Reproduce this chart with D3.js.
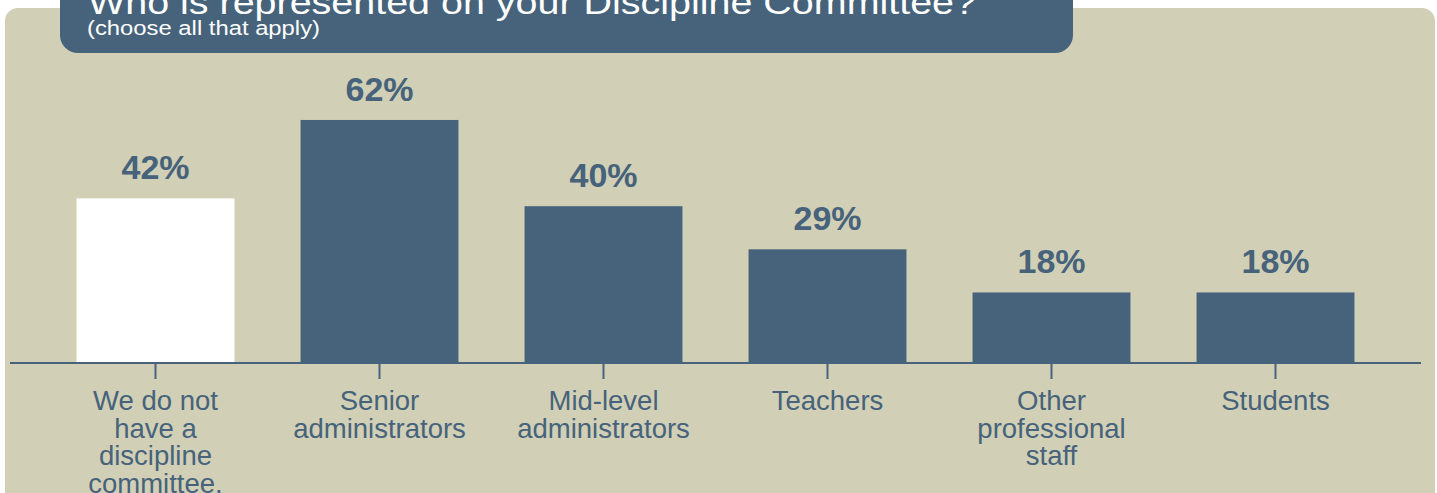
<!DOCTYPE html>
<html>
<head>
<meta charset="utf-8">
<script src="https://cdn.jsdelivr.net/npm/d3@7"></script>
<style>
  html, body { margin: 0; padding: 0; background: #ffffff; overflow: hidden; }
  svg { display: block; }
  text { font-family: "Liberation Sans", Arial, sans-serif; }
</style>
</head>
<body>
<svg id="chart" width="1437" height="493"></svg>
<script>
// ---- data ----
const categories = [
  "We do not have a discipline committee.",
  "Senior administrators",
  "Mid-level administrators",
  "Teachers",
  "Other professional staff",
  "Students"
];
const values = [42, 62, 40, 29, 18, 18];
const tickLabels = [
  ["We do not", "have a", "discipline", "committee."],
  ["Senior", "administrators"],
  ["Mid-level", "administrators"],
  ["Teachers"],
  ["Other", "professional", "staff"],
  ["Students"]
];
const highlight = ["We do not have a discipline committee."];
const titleText = "Who is represented on your Discipline Committee?";
const subtitleText = "(choose all that apply)";

// ---- style ----
const BLUE = "#46637b";
const BG = "#d1cfb5";

const svg = d3.select("#chart");

// panel
svg.append("rect")
  .attr("x", 5).attr("y", 8)
  .attr("width", 1430).attr("height", 500)
  .attr("rx", 13).attr("ry", 13)
  .attr("fill", BG);

// title box
svg.append("rect")
  .attr("x", 60).attr("y", -30)
  .attr("width", 1013).attr("height", 83)
  .attr("rx", 18).attr("ry", 18)
  .attr("fill", BLUE);

svg.append("text")
  .attr("x", 88).attr("y", 14)
  .attr("fill", "#ffffff")
  .attr("font-size", 33)
  .attr("textLength", 888)
  .attr("lengthAdjust", "spacingAndGlyphs")
  .text(titleText);

svg.append("text")
  .attr("x", 87).attr("y", 34.5)
  .attr("fill", "#ffffff")
  .attr("font-size", 20)
  .attr("textLength", 233)
  .attr("lengthAdjust", "spacingAndGlyphs")
  .text(subtitleText);

// scales
const x = d3.scaleBand()
  .domain(categories)
  .range([43.5, 1387.5])
  .paddingInner(0.295)
  .paddingOuter(0.1475);

const baseY = 363;
const y = d3.scaleLinear()
  .domain([0, 100])
  .range([baseY, baseY - 392]);

const data = categories.map((c, i) => ({ c, v: values[i], lines: tickLabels[i] }));

// bars
svg.append("g")
  .selectAll("rect")
  .data(data)
  .join("rect")
  .attr("x", d => x(d.c))
  .attr("y", d => y(d.v))
  .attr("width", x.bandwidth())
  .attr("height", d => y(0) - y(d.v))
  .attr("fill", d => highlight.includes(d.c) ? "#ffffff" : BLUE);

// value labels
svg.append("g")
  .selectAll("text")
  .data(data)
  .join("text")
  .attr("x", d => x(d.c) + x.bandwidth() / 2)
  .attr("y", d => y(d.v) - 19)
  .attr("text-anchor", "middle")
  .attr("fill", BLUE)
  .attr("font-size", 34)
  .attr("font-weight", "bold")
  .text(d => d.v + "%");

// axis
const axis = d3.axisBottom(x).tickSize(16).tickSizeOuter(0).tickFormat("");
const gAxis = svg.append("g")
  .attr("transform", `translate(0,${baseY})`)
  .call(axis);
gAxis.select(".domain").remove();
gAxis.selectAll(".tick line")
  .attr("stroke", BLUE)
  .attr("stroke-width", 2);

svg.append("line")
  .attr("x1", 10).attr("x2", 1421)
  .attr("y1", baseY).attr("y2", baseY)
  .attr("stroke", BLUE)
  .attr("stroke-width", 2);

// category labels
const lbl = svg.append("g")
  .selectAll("text")
  .data(data)
  .join("text")
  .attr("x", d => x(d.c) + x.bandwidth() / 2)
  .attr("y", 410)
  .attr("text-anchor", "middle")
  .attr("fill", BLUE)
  .attr("font-size", 27.5);
lbl.selectAll("tspan")
  .data(d => d.lines.map(l => ({ l, cx: x(d.c) + x.bandwidth() / 2 })))
  .join("tspan")
  .attr("x", t => t.cx)
  .attr("dy", (t, i) => i === 0 ? 0 : 27.5)
  .text(t => t.l);
</script>
</body>
</html>
